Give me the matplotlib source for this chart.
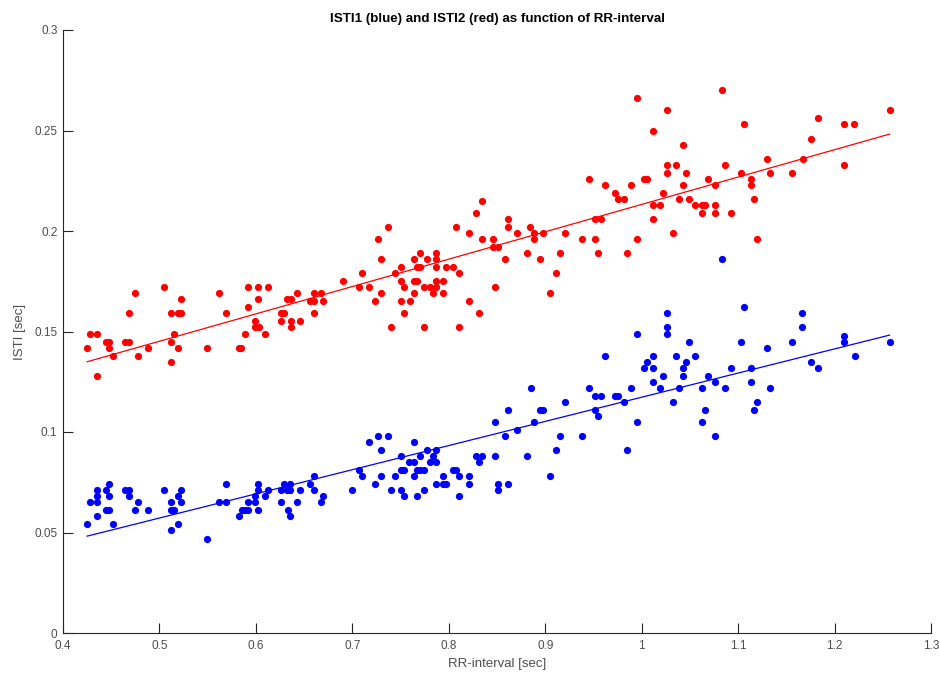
import matplotlib
matplotlib.use("Agg")
import matplotlib.pyplot as plt
import numpy as np

# ISTI2 (red) readings: RR-interval [sec], ISTI2 [sec]
rr_red = [
    0.505, 0.475, 0.592, 0.602, 0.613, 0.562, 0.522, 0.602, 0.632, 0.636,
    0.592, 0.468, 0.512, 0.519, 0.522, 0.569, 0.626, 0.629, 0.599, 0.626,
    0.636, 0.599, 0.603, 0.636, 0.428, 0.435, 0.515, 0.589, 0.609, 0.445,
    0.448, 0.464, 0.468, 0.512, 0.425, 0.448, 0.488, 0.519, 0.549, 0.582,
    0.585, 0.452, 0.478, 0.512, 0.435,
    0.828, 0.737, 0.808, 0.821, 0.727, 0.834, 0.846, 0.846, 0.770, 0.787,
    0.730, 0.764, 0.777, 0.787, 0.750, 0.767, 0.770, 0.787, 0.797, 0.804,
    0.710, 0.744, 0.811, 0.690, 0.750, 0.764, 0.767, 0.787, 0.794, 0.707,
    0.717, 0.754, 0.774, 0.781, 0.787, 0.848, 0.643, 0.660, 0.667, 0.730,
    0.764, 0.784, 0.794, 0.656, 0.660, 0.670, 0.724, 0.750, 0.760, 0.821,
    0.660, 0.754, 0.831, 0.646, 0.740, 0.774, 0.811,
    0.834, 0.995, 1.026, 1.012, 1.043, 1.026, 1.036, 1.026, 1.046, 0.945,
    1.002, 1.006, 0.962, 0.989, 1.043, 0.972, 1.022, 0.975, 0.982, 1.039,
    1.049, 1.012, 1.019, 1.055, 0.952, 0.958, 1.012, 0.861, 0.861, 0.884,
    0.871, 0.888, 0.898, 0.921, 1.033, 0.888, 0.938, 0.952, 0.995, 0.851,
    0.881, 0.915, 0.955, 0.985, 0.858, 0.895, 0.911, 0.905,
    1.083, 1.257, 1.183, 1.106, 1.210, 1.220, 1.176, 1.130, 1.167, 1.086,
    1.210, 1.103, 1.133, 1.156, 1.069, 1.113, 1.076, 1.113, 1.116, 1.063,
    1.066, 1.076, 1.063, 1.076, 1.093, 1.120,
]
isti2 = [
    0.172, 0.169, 0.172, 0.172, 0.172, 0.169, 0.166, 0.166, 0.166, 0.166,
    0.162, 0.159, 0.159, 0.159, 0.159, 0.159, 0.159, 0.159, 0.155, 0.155,
    0.155, 0.152, 0.152, 0.152, 0.149, 0.149, 0.149, 0.149, 0.149, 0.145,
    0.145, 0.145, 0.145, 0.145, 0.142, 0.142, 0.142, 0.142, 0.142, 0.142,
    0.142, 0.138, 0.138, 0.135, 0.128,
    0.209, 0.202, 0.202, 0.199, 0.196, 0.196, 0.196, 0.192, 0.189, 0.189,
    0.186, 0.186, 0.186, 0.186, 0.182, 0.182, 0.182, 0.182, 0.182, 0.182,
    0.179, 0.179, 0.179, 0.175, 0.175, 0.175, 0.175, 0.175, 0.175, 0.172,
    0.172, 0.172, 0.172, 0.172, 0.172, 0.172, 0.169, 0.169, 0.169, 0.169,
    0.169, 0.169, 0.169, 0.165, 0.165, 0.165, 0.165, 0.165, 0.165, 0.165,
    0.159, 0.159, 0.159, 0.155, 0.152, 0.152, 0.152,
    0.215, 0.266, 0.260, 0.250, 0.243, 0.233, 0.233, 0.229, 0.229, 0.226,
    0.226, 0.226, 0.223, 0.223, 0.223, 0.219, 0.219, 0.216, 0.216, 0.216,
    0.216, 0.213, 0.213, 0.213, 0.206, 0.206, 0.206, 0.206, 0.202, 0.202,
    0.199, 0.199, 0.199, 0.199, 0.199, 0.196, 0.196, 0.196, 0.196, 0.192,
    0.189, 0.189, 0.189, 0.189, 0.186, 0.186, 0.179, 0.169,
    0.270, 0.260, 0.256, 0.253, 0.253, 0.253, 0.246, 0.236, 0.236, 0.233,
    0.233, 0.229, 0.229, 0.229, 0.226, 0.226, 0.223, 0.223, 0.216, 0.213,
    0.213, 0.213, 0.209, 0.209, 0.209, 0.196,
]

# ISTI1 (blue) readings
rr_blue = [
    0.448, 0.569, 0.602, 0.629, 0.635, 0.435, 0.445, 0.464, 0.468, 0.505,
    0.522, 0.602, 0.613, 0.626, 0.632, 0.635, 0.435, 0.448, 0.468, 0.519,
    0.599, 0.609, 0.428, 0.435, 0.478, 0.512, 0.522, 0.562, 0.569, 0.592,
    0.599, 0.626, 0.445, 0.448, 0.475, 0.488, 0.512, 0.515, 0.586, 0.589,
    0.592, 0.602, 0.633, 0.435, 0.582, 0.635, 0.425, 0.452, 0.519, 0.512,
    0.549,
    0.727, 0.737, 0.717, 0.764, 0.730, 0.777, 0.787, 0.750, 0.770, 0.784,
    0.828, 0.834, 0.759, 0.764, 0.781, 0.787, 0.831, 0.750, 0.754, 0.767,
    0.770, 0.774, 0.707, 0.804, 0.808, 0.660, 0.710, 0.730, 0.744, 0.764,
    0.794, 0.811, 0.821, 0.656, 0.724, 0.787, 0.794, 0.797, 0.821, 0.646,
    0.660, 0.700, 0.740, 0.750, 0.774, 0.643, 0.667, 0.670, 0.754, 0.767,
    0.811,
    1.026, 1.026, 0.995, 1.026, 1.049, 0.962, 1.012, 1.036, 1.055, 1.006,
    1.046, 1.002, 1.012, 1.043, 1.022, 1.043, 1.012, 0.885, 0.945, 0.989,
    1.019, 1.039, 0.952, 0.958, 0.972, 0.975, 0.921, 0.982, 1.033, 0.861,
    0.895, 0.898, 0.952, 0.955, 0.848, 0.888, 0.995, 0.871, 0.858, 0.915,
    0.938, 0.911, 0.985, 0.848, 0.881, 0.905, 0.851, 0.861, 0.851,
    1.083, 1.106, 1.166, 1.166, 1.210, 1.103, 1.156, 1.210, 1.257, 1.130,
    1.221, 1.176, 1.093, 1.113, 1.183, 1.069, 1.076, 1.113, 1.063, 1.086,
    1.133, 1.120, 1.066, 1.116, 1.063, 1.076,
]
isti1 = [
    0.074, 0.074, 0.074, 0.074, 0.074, 0.071, 0.071, 0.071, 0.071, 0.071,
    0.071, 0.071, 0.071, 0.071, 0.071, 0.071, 0.068, 0.068, 0.068, 0.068,
    0.068, 0.068, 0.065, 0.065, 0.065, 0.065, 0.065, 0.065, 0.065, 0.065,
    0.065, 0.065, 0.061, 0.061, 0.061, 0.061, 0.061, 0.061, 0.061, 0.061,
    0.061, 0.061, 0.061, 0.058, 0.058, 0.058, 0.054, 0.054, 0.054, 0.051,
    0.047,
    0.098, 0.098, 0.095, 0.095, 0.091, 0.091, 0.091, 0.088, 0.088, 0.088,
    0.088, 0.088, 0.085, 0.085, 0.085, 0.085, 0.085, 0.081, 0.081, 0.081,
    0.081, 0.081, 0.081, 0.081, 0.081, 0.078, 0.078, 0.078, 0.078, 0.078,
    0.078, 0.078, 0.078, 0.074, 0.074, 0.074, 0.074, 0.074, 0.074, 0.071,
    0.071, 0.071, 0.071, 0.071, 0.071, 0.065, 0.065, 0.068, 0.068, 0.068,
    0.068,
    0.159, 0.152, 0.149, 0.149, 0.145, 0.138, 0.138, 0.138, 0.138, 0.135,
    0.135, 0.132, 0.132, 0.132, 0.128, 0.128, 0.125, 0.122, 0.122, 0.122,
    0.122, 0.122, 0.118, 0.118, 0.118, 0.118, 0.115, 0.115, 0.115, 0.111,
    0.111, 0.111, 0.111, 0.108, 0.105, 0.105, 0.105, 0.101, 0.098, 0.098,
    0.098, 0.091, 0.091, 0.088, 0.088, 0.078, 0.074, 0.074, 0.071,
    0.186, 0.162, 0.159, 0.152, 0.148, 0.145, 0.145, 0.145, 0.145, 0.142,
    0.138, 0.135, 0.132, 0.132, 0.132, 0.128, 0.125, 0.125, 0.122, 0.122,
    0.122, 0.115, 0.111, 0.111, 0.105, 0.098,
]

x_ticks = [0.4, 0.5, 0.6, 0.7, 0.8, 0.9, 1.0, 1.1, 1.2, 1.3]
x_labels = ['0.4', '0.5', '0.6', '0.7', '0.8', '0.9', '1', '1.1', '1.2', '1.3']
y_ticks = [0, 0.05, 0.1, 0.15, 0.2, 0.25, 0.3]
y_labels = ['0', '0.05', '0.1', '0.15', '0.2', '0.25', '0.3']

plt.rcParams['font.family'] = ['Liberation Sans', 'DejaVu Sans']
axis_grey = '#262626'
tick_grey = '#4d4d4d'

fig = plt.figure(figsize=(9.4, 6.76), dpi=100)
ax = fig.add_axes([63 / 940, 1 - 633 / 676, 868 / 940, 603 / 676])

ax.plot(rr_blue, isti1, 'o', color='#0000ff', markersize=5.2, markeredgewidth=0)
ax.plot(rr_red, isti2, 'o', color='#ff0000', markersize=5.2, markeredgewidth=0)

# linear fits over the data range
for xs, ys, c in [(rr_blue, isti1, '#0000ff'), (rr_red, isti2, '#ff0000')]:
    xs = np.asarray(xs)
    k, b = np.polyfit(xs, ys, 1)
    xl = np.array([xs.min(), xs.max()])
    ax.plot(xl, k * xl + b, '-', color=c, linewidth=0.9)

ax.set_xlim(0.4, 1.3)
ax.set_ylim(0, 0.3)
ax.set_xticks(x_ticks)
ax.set_xticklabels(x_labels)
ax.set_yticks(y_ticks)
ax.set_yticklabels(y_labels)

for side in ['top', 'right']:
    ax.spines[side].set_visible(False)
for side in ['left', 'bottom']:
    ax.spines[side].set_color(axis_grey)
    ax.spines[side].set_linewidth(0.8)
ax.tick_params(direction='in', length=7, width=0.8, color=axis_grey,
               labelcolor=tick_grey, labelsize=8.5)
ax.tick_params(axis='x', pad=5)
ax.tick_params(axis='y', pad=4)

ax.set_xlabel('RR-interval [sec]', fontsize=9.5, color=tick_grey, labelpad=4)
ax.set_ylabel('ISTI [sec]', fontsize=9.5, color=tick_grey, labelpad=6)
ax.set_title('ISTI1 (blue) and ISTI2 (red) as function of RR-interval',
             fontsize=9.6, fontweight='bold', color='black', pad=6)

fig.savefig('out.png', dpi=100, facecolor='white')
